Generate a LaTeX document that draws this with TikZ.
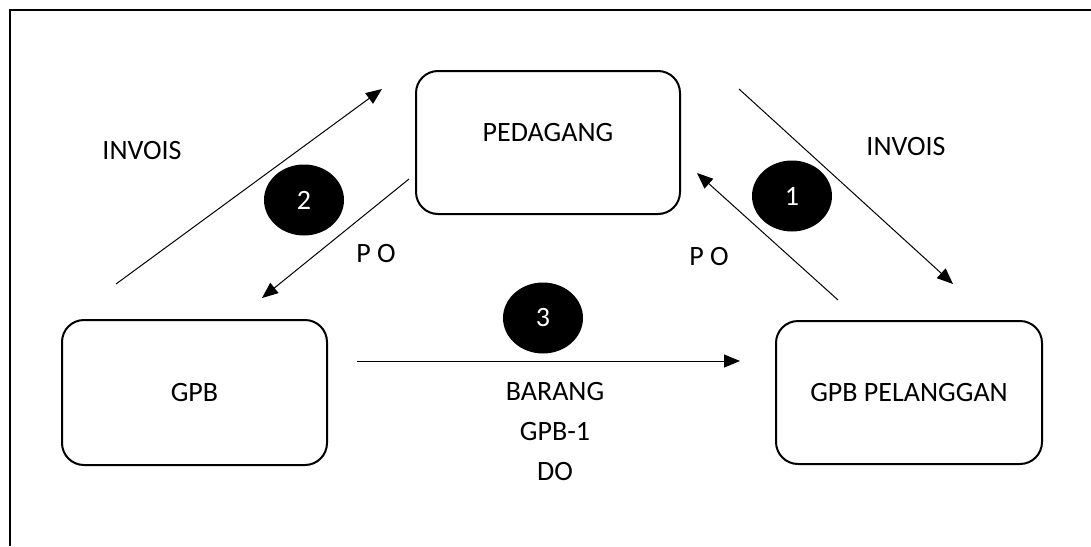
\documentclass[tikz,border=0pt]{standalone}
\usepackage{fontspec}
\setmainfont{Carlito}
\usepackage{tikz}
\usetikzlibrary{arrows.meta,shapes.geometric}
\usepackage{xcolor}

\begin{document}
\begin{tikzpicture}[x=1pt,y=-1pt,line width=1pt,
  >={Triangle[length=16pt,width=13pt]},
  font=\fontsize{28}{40}\selectfont,
  party node/.style={rectangle,rounded corners=22pt,draw,line width=2pt,
                     inner sep=0pt},
  step node/.style={ellipse,fill=black,text=white,inner sep=0pt,
                    minimum width=80pt,minimum height=71pt},
  flow label/.style={inner sep=0pt}]

  \useasboundingbox (0,0) rectangle (1091,546);
  \draw[line width=2pt] (9.5,546) -- (9.5,9.5) -- (1091,9.5);

  \node[party node,minimum width=264pt,minimum height=143pt,text depth=20pt]
       (P) at (548,142.5) {PEDAGANG};
  \node[party node,minimum width=265pt,minimum height=145pt]
       (G) at (194.5,392.5) {GPB};
  \node[party node,minimum width=266pt,minimum height=143pt]
       (GP) at (909,392.5) {GPB PELANGGAN};

  \node[step node] (S1) at (792,196) {1};
  \node[step node] (S2) at (304,200) {2};
  \node[step node] (S3) at (543,318) {3};

  % free ends of the flows
  \coordinate (inv2a) at (116,284);
  \coordinate (inv2b) at (382,89);
  \coordinate (po2a)  at (409,179);
  \coordinate (po2b)  at (262,298);
  \coordinate (inv1a) at (739,89);
  \coordinate (inv1b) at (953,284);
  \coordinate (po1a)  at (838,300);
  \coordinate (po1b)  at (697,173);
  \coordinate (brga)  at (357,361);
  \coordinate (brgb)  at (740,361);

  \draw[->] (inv2a) -- (inv2b);
  \draw[->] (po2a) -- (po2b);
  \draw[->] (inv1a) -- (inv1b);
  \draw[->] (po1a) -- (po1b);
  \draw[->] (brga) -- (brgb);

  % labels
  \node[flow label] (L1) at (142,151) {INVOIS};
  \node[flow label] (L2) at (906,147) {INVOIS};
  \node[flow label] (L3) at (376,254) {P O};
  \node[flow label] (L4) at (709,257) {P O};
  \node[flow label,align=center,anchor=north] (L5) at (555,382)
       {BARANG\\GPB-1\\DO};

\end{tikzpicture}
\end{document}
